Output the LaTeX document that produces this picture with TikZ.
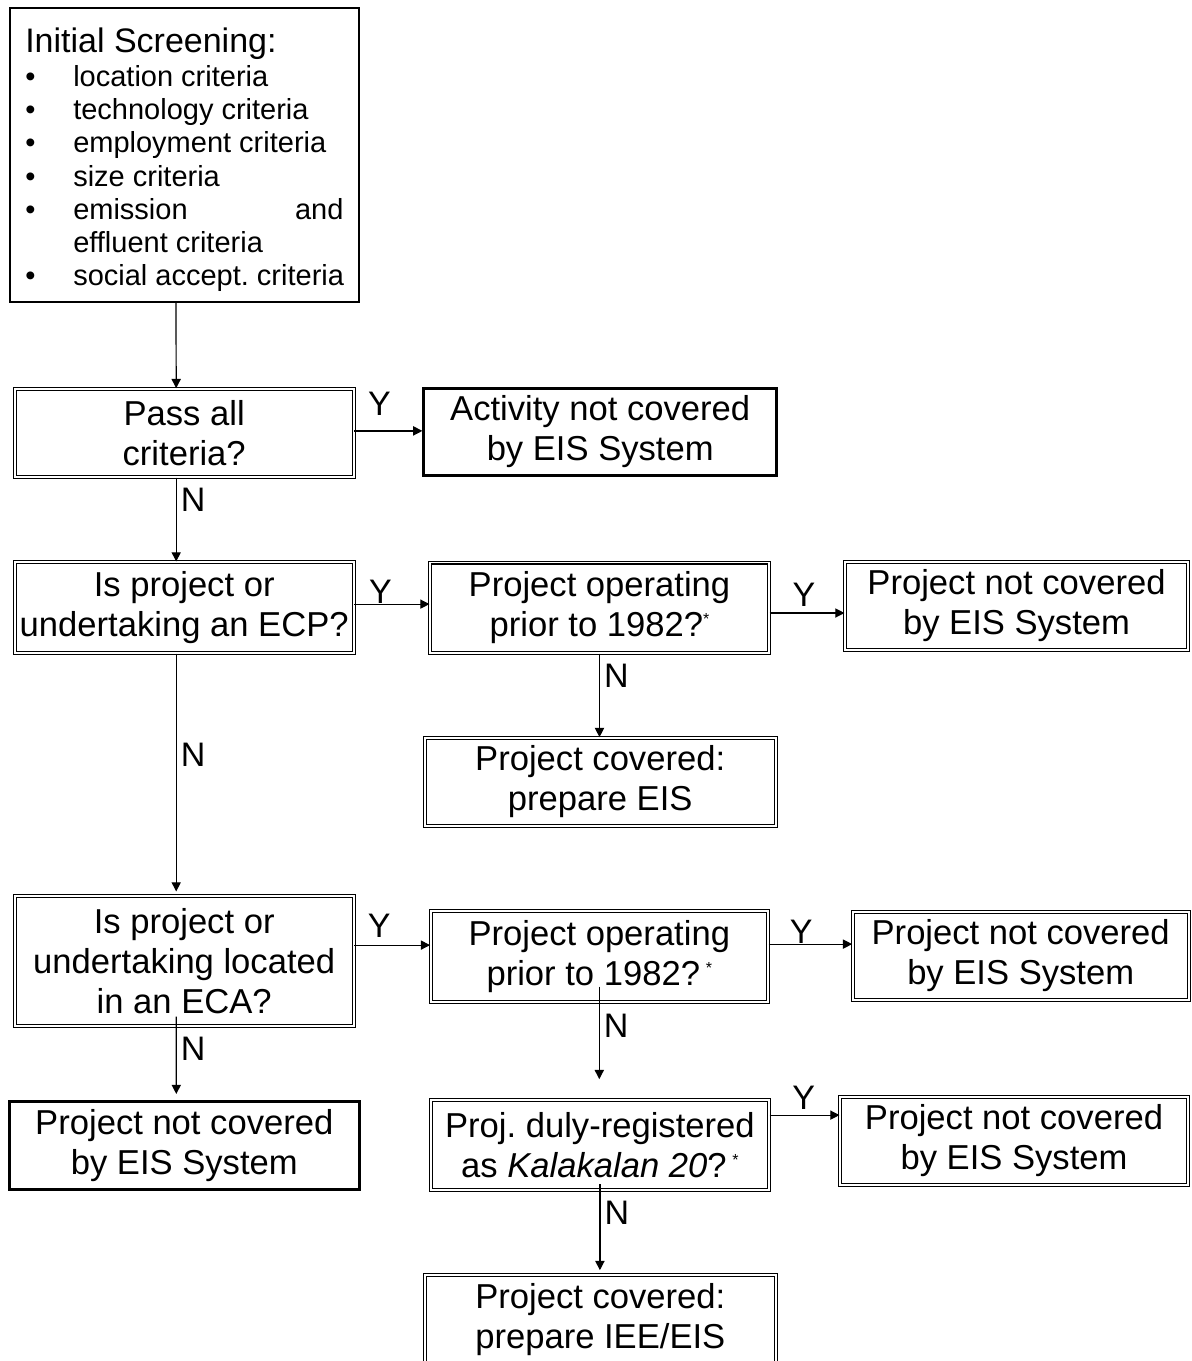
\documentclass[tikz,border=0pt]{standalone}
\usepackage{fontspec}
\setmainfont{Liberation Sans}
\usetikzlibrary{arrows.meta}
\newcommand\crit{\makebox[24pt][l]{\textbullet}}
\newcommand\fnmark{\raisebox{6pt}{\fontsize{8}{8}\selectfont *}}

\begin{document}
\begin{tikzpicture}[x=0.5pt,y=0.5pt,yscale=-1,
  box/.style={draw, inner sep=0pt, align=center, font=\fontsize{17.3}{20}\selectfont},
  dbox/.style={box, double, double distance=0.9pt, line width=0.55pt},
  tbox/.style={box, line width=1.5pt},
  arr/.style={line width=0.6pt, -{Triangle[length=4.6pt,width=4.6pt]}},
  yes/.style={above=2.5pt, pos=0.4, inner sep=0pt, font=\fontsize{17}{20}\selectfont},
  no/.style={right=2pt, pos=0.27, inner sep=0pt, font=\fontsize{17}{20}\selectfont}]
\path[use as bounding box, clip] (0,0) rectangle (1192,1361);

%Shape: Rectangle [screening]
\node (screen) [draw, line width=1pt, inner sep=0pt, align=left, anchor=north west,
  minimum width=174.35pt, minimum height=147pt, font=\fontsize{14.5}{16.6}\selectfont] at (9.3,6.7)
  {\rule{0pt}{18.6pt}{\fontsize{17}{16.6}\selectfont Initial Screening:}\\[0.2pt]
   \crit location criteria\\
   \crit technology criteria\\
   \crit employment criteria\\
   \crit size criteria\\
   \crit\makebox[135.1pt][l]{emission\hfill and}\\
   \hspace*{24pt}effluent criteria\\
   \crit social accept.\ criteria\rule[-4pt]{0pt}{4pt}};

%Shape: Rectangle [left column]
\node (pass) [dbox, minimum width=169.4pt, minimum height=44.2pt] at (184.2,432.9) {Pass all\\criteria?};
\node (ecp) [dbox, minimum width=169.4pt, minimum height=45.5pt] at (184.2,607.5) {Is project or\\undertaking an ECP?};
\node (eca) [dbox, minimum width=169.4pt, minimum height=65pt] at (184.2,961) {Is project or\\undertaking located\\in an ECA?};
\node (nc0) [tbox, minimum width=175.2pt, minimum height=43.8pt] at (184.3,1145.3) {Project not covered\\by EIS System};

%Shape: Rectangle [middle column]
\node (act) [tbox, minimum width=176.3pt, minimum height=43.3pt] at (600.2,431.9) {Activity not covered\\by EIS System};
\node (op1) [dbox, minimum width=169.5pt, minimum height=45.3pt] at (599.5,607.8) {Project operating\\prior to 1982?\fnmark};
\node (cov1) [dbox, minimum width=175.5pt, minimum height=44.2pt] at (600.2,781.9) {Project covered:\\prepare EIS};
\node (op2) [dbox, minimum width=168.7pt, minimum height=45.5pt] at (599.3,956.5) {Project operating\\prior to 1982?\,\fnmark};
\node (kal) [dbox, minimum width=169.1pt, minimum height=45pt] at (599.9,1144.7) {Proj.\ duly-registered\\as \textit{Kalakalan 20}?\,\fnmark};
\node (cov2) [dbox, minimum width=175.7pt, minimum height=45.3pt] at (600.3,1320) {Project covered:\\prepare IEE/EIS};

%Shape: Rectangle [right column]
\node (nc1) [dbox, minimum width=171.5pt, minimum height=44pt] at (1016.5,606) {Project not covered\\by EIS System};
\node (nc2) [dbox, minimum width=168pt, minimum height=44pt] at (1020.7,956) {Project not covered\\by EIS System};
\node (nc3) [dbox, minimum width=174pt, minimum height=43.8pt] at (1014,1140.9) {Project not covered\\by EIS System};

%Straight Lines [down]
\draw [arr] (screen.south -| 176,0) -- ([xshift=-4pt]pass.north);
\draw [arr] ([xshift=-4pt]pass.south) -- node[no] {N} ([xshift=-4pt]ecp.north);
\draw [arr, shorten >=2pt] ([xshift=-4pt]ecp.south) -- node[no, pos=0.42] {N} ([xshift=-4pt]eca.north);
\draw [arr, shorten <=-5pt, shorten >=3pt] ([xshift=-4pt]eca.south) -- node[no, pos=0.3] {N} ([xshift=-4pt]nc0.north);
\draw [arr] (op1.south) -- node[no] {N} (op1.south |- cov1.north);
\draw [arr, shorten <=-8pt, shorten >=10pt] (op2.south) -- node[no, pos=0.245] {N} (op2.south |- kal.north);
\draw [arr, shorten <=-3pt, shorten >=2pt] (kal.south) -- node[no] {N} (kal.south |- cov2.north);

%Straight Lines [across]
\draw [arr] ([yshift=-1pt]pass.east) -- node[yes, above=5pt, pos=0.37] {Y} ([yshift=-1pt]pass.east -| act.west);
\draw [arr] ([yshift=-1.7pt]ecp.east) -- node[yes, above=-2.5pt, pos=0.35] {Y} ([yshift=-1.7pt]ecp.east -| op1.west);
\draw [arr] ([yshift=2.6pt]op1.east) -- node[yes, above=0.5pt, pos=0.46] {Y} ([yshift=2.6pt]op1.east -| nc1.west);
\draw [arr] ([yshift=-5.7pt]op2.west -| eca.east) -- node[yes, above=1pt, pos=0.33] {Y} ([yshift=-5.7pt]op2.west);
\draw [arr] ([yshift=-6.2pt]op2.east) -- node[yes, above=-2.5pt, pos=0.39] {Y} ([yshift=-6.2pt]op2.east -| nc2.west);
\draw [arr] ([yshift=-14.8pt]kal.east) -- node[yes, pos=0.49] {Y} ([yshift=-14.8pt]kal.east -| nc3.west);

\end{tikzpicture}
\end{document}
